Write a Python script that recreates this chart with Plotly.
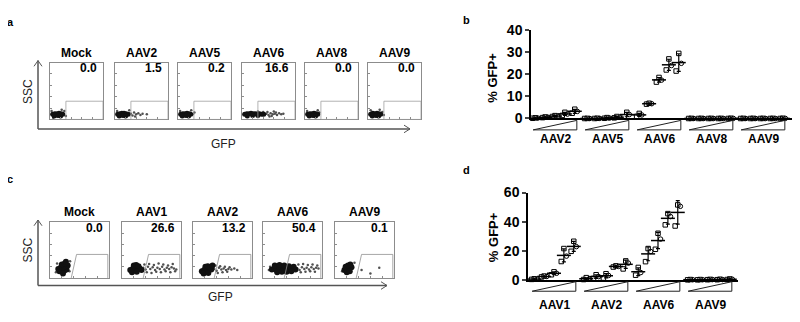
import plotly.graph_objects as go
import numpy as np

# page body keeps an 8px default margin, so the figure is 792x314 and coordinates are shifted
OFF = 8
W, H = 800 - OFF, 322 - OFF
def px(x): return (x - OFF) / W
def py(y): return 1 - (y - OFF) / H

FONT = "Liberation Sans, Arial, sans-serif"

# ---------------- data: panel a (flow) ----------------
A_TITLES = ["Mock", "AAV2", "AAV5", "AAV6", "AAV8", "AAV9"]
A_PCT = ["0.0", "1.5", "0.2", "16.6", "0.0", "0.0"]
A_CORE_X = [
    [0.05, 0.09, 0.13, 0.17, 0.21, 0.24, 0.08, 0.15, 0.20],
    [0.05, 0.09, 0.13, 0.17, 0.21, 0.25, 0.08, 0.15, 0.20],
    [0.05, 0.09, 0.13, 0.17, 0.21, 0.24, 0.08, 0.15, 0.20],
    [0.05, 0.09, 0.13, 0.17, 0.21, 0.25, 0.29, 0.33, 0.37, 0.41, 0.10, 0.20, 0.30],
    [0.05, 0.09, 0.13, 0.17, 0.21, 0.24, 0.08, 0.15, 0.20],
    [0.05, 0.09, 0.13, 0.17, 0.21, 0.24, 0.08, 0.15, 0.20],
]
A_CORE_Y = [
    [0.09, 0.10, 0.10, 0.11, 0.10, 0.09, 0.06, 0.07, 0.06],
    [0.09, 0.10, 0.11, 0.11, 0.10, 0.09, 0.06, 0.07, 0.06],
    [0.09, 0.10, 0.10, 0.11, 0.10, 0.09, 0.06, 0.07, 0.06],
    [0.09, 0.10, 0.10, 0.11, 0.10, 0.10, 0.09, 0.10, 0.09, 0.09, 0.06, 0.07, 0.07],
    [0.09, 0.10, 0.10, 0.11, 0.10, 0.09, 0.06, 0.07, 0.06],
    [0.09, 0.11, 0.10, 0.11, 0.10, 0.09, 0.06, 0.07, 0.06],
]
A_SPARSE_X = [
    [0.03, 0.27, 0.30, 0.06, 0.22],
    [0.30, 0.33, 0.36, 0.40, 0.44, 0.48, 0.52, 0.38, 0.60, 0.27, 0.04],
    [0.28, 0.31, 0.04, 0.25],
    [0.46, 0.50, 0.54, 0.58, 0.62, 0.66, 0.70, 0.48, 0.56, 0.64, 0.74, 0.78, 0.52, 0.60, 0.30, 0.40],
    [0.27, 0.04, 0.24],
    [0.27, 0.05, 0.22, 0.30],
]
A_SPARSE_Y = [
    [0.15, 0.15, 0.06, 0.03, 0.17],
    [0.10, 0.07, 0.12, 0.09, 0.11, 0.08, 0.10, 0.05, 0.09, 0.16, 0.15],
    [0.09, 0.12, 0.15, 0.16],
    [0.10, 0.08, 0.11, 0.09, 0.10, 0.08, 0.11, 0.13, 0.06, 0.12, 0.09, 0.10, 0.05, 0.14, 0.14, 0.13],
    [0.12, 0.15, 0.16],
    [0.13, 0.16, 0.17, 0.08],
]
A_GATE = [0.30, 0.32]  # left x, top y

# ---------------- data: panel c (flow) ----------------
C_TITLES = ["Mock", "AAV1", "AAV2", "AAV6", "AAV9"]
C_PCT = ["0.0", "26.6", "13.2", "50.4", "0.1"]
C_CORE_X = [
    [0.16, 0.20, 0.24, 0.28, 0.18, 0.22, 0.26, 0.30, 0.20, 0.25, 0.14, 0.22, 0.27],
    [0.14, 0.18, 0.22, 0.26, 0.30, 0.20, 0.24, 0.28, 0.17, 0.25, 0.33],
    [0.15, 0.19, 0.23, 0.27, 0.31, 0.21, 0.25, 0.29, 0.18, 0.26, 0.33],
    [0.15, 0.19, 0.23, 0.27, 0.31, 0.35, 0.39, 0.43, 0.47, 0.51, 0.55, 0.20, 0.28, 0.36, 0.44, 0.52, 0.24, 0.32, 0.40, 0.48],
    [0.16, 0.20, 0.24, 0.28, 0.18, 0.22, 0.26, 0.20, 0.25],
]
C_CORE_Y = [
    [0.12, 0.12, 0.13, 0.15, 0.18, 0.19, 0.20, 0.22, 0.24, 0.26, 0.16, 0.08, 0.29],
    [0.14, 0.16, 0.17, 0.18, 0.17, 0.22, 0.23, 0.21, 0.10, 0.11, 0.14],
    [0.12, 0.14, 0.15, 0.16, 0.15, 0.20, 0.21, 0.19, 0.08, 0.09, 0.22],
    [0.15, 0.16, 0.17, 0.16, 0.17, 0.16, 0.18, 0.17, 0.16, 0.17, 0.15, 0.22, 0.23, 0.22, 0.21, 0.20, 0.10, 0.11, 0.11, 0.12],
    [0.14, 0.15, 0.17, 0.19, 0.20, 0.22, 0.24, 0.10, 0.12],
]
C_SPARSE_X = [
    [0.10, 0.34, 0.12, 0.33],
    [0.36, 0.40, 0.44, 0.48, 0.52, 0.56, 0.60, 0.64, 0.68, 0.72, 0.76, 0.80, 0.84, 0.88, 0.92,
     0.38, 0.46, 0.54, 0.62, 0.70, 0.78, 0.86, 0.42, 0.50, 0.58, 0.66, 0.74, 0.82, 0.90],
    [0.36, 0.40, 0.44, 0.48, 0.52, 0.56, 0.60, 0.65, 0.70, 0.38, 0.46, 0.54, 0.62, 0.42, 0.50, 0.58, 0.75],
    [0.58, 0.62, 0.66, 0.70, 0.74, 0.78, 0.82, 0.86, 0.90, 0.94, 0.60, 0.68, 0.76, 0.84, 0.92,
     0.64, 0.72, 0.80, 0.88, 0.10, 0.12],
    [0.45, 0.60, 0.75, 0.12, 0.33],
]
C_SPARSE_Y = [
    [0.10, 0.30, 0.26, 0.12],
    [0.18, 0.15, 0.20, 0.16, 0.19, 0.14, 0.18, 0.16, 0.20, 0.15, 0.18, 0.16, 0.19, 0.17, 0.15,
     0.24, 0.25, 0.23, 0.26, 0.24, 0.22, 0.25, 0.10, 0.09, 0.11, 0.10, 0.12, 0.10, 0.12],
    [0.16, 0.13, 0.18, 0.15, 0.17, 0.14, 0.16, 0.15, 0.17, 0.22, 0.21, 0.20, 0.19, 0.09, 0.10, 0.11, 0.14],
    [0.17, 0.14, 0.19, 0.16, 0.18, 0.15, 0.19, 0.16, 0.18, 0.17, 0.24, 0.25, 0.23, 0.24, 0.22,
     0.10, 0.11, 0.12, 0.11, 0.14, 0.20],
    [0.14, 0.08, 0.18, 0.12, 0.27],
]
C_GATE = [0.36, 0.45, 0.42, 0.98]  # bottom-left x, top-left x, top y, right x

# ---------------- data: panel b ----------------
B_GROUPS = ["AAV2", "AAV5", "AAV6", "AAV8", "AAV9"]
B_VALUES = [
    [[0.1, 0.2, 0.3], [0.4, 0.6, 0.7], [0.9, 1.1, 1.3], [1.4, 2.0, 2.8], [2.4, 3.2, 4.2]],
    [[0.0, 0.0, 0.05], [0.0, 0.05, 0.1], [0.1, 0.2, 0.4], [0.3, 0.6, 0.9], [0.8, 1.8, 2.8]],
    [[1.0, 1.6, 2.3], [6.5, 6.7, 6.9], [16.5, 17.4, 18.6], [22.0, 24.0, 27.0], [21.5, 25.0, 29.5]],
    [[0.0, 0.0, 0.05], [0.0, 0.0, 0.05], [0.0, 0.0, 0.05], [0.0, 0.0, 0.05], [0.0, 0.05, 0.1]],
    [[0.0, 0.0, 0.05], [0.0, 0.0, 0.05], [0.0, 0.0, 0.05], [0.0, 0.0, 0.05], [0.0, 0.05, 0.1]],
]
B_TICKS = [0, 10, 20, 30, 40]

# ---------------- data: panel d ----------------
D_GROUPS = ["AAV1", "AAV2", "AAV6", "AAV9"]
D_VALUES = [
    [[0.3, 0.5, 0.7], [2.0, 2.3, 2.6], [3.5, 4.5, 5.5], [12.6, 16.3, 21.5], [19.6, 22.8, 26.5]],
    [[0.2, 0.5, 1.5], [1.0, 2.2, 3.5], [1.2, 3.0, 4.2], [8.8, 9.2, 9.6], [7.5, 11.5, 13.0]],
    [[3.2, 5.0, 8.5], [12.5, 19.5, 21.5], [21.0, 28.0, 32.0], [37.8, 43.5, 45.5], [37.0, 50.5, 51.5]],
    [[0.0, 0.1, 0.2], [0.0, 0.1, 0.2], [0.1, 0.2, 0.3], [0.1, 0.2, 0.4], [0.2, 0.4, 0.6]],
]
D_TICKS = [0, 20, 40, 60]

DOSE_OFFSETS = [-0.38, -0.19, 0.0, 0.19, 0.38]
REP_JITTER = [-0.05, 0.05, 0.0]
REP_SYMBOLS = ["square-open", "circle-open", "square-open"]

fig = go.Figure()
layout = {}
shapes = []
annotations = []

def axname(n, kind):
    return kind + ("" if n == 1 else str(n))

def note(x, y, text, size=12, bold=True, angle=0, xanchor="center", color="black"):
    f = dict(size=size, color=color)
    if bold:
        f["weight"] = "bold"
    annotations.append(dict(x=px(x), y=py(y), xref="paper", yref="paper", text=text,
                            textangle=angle, showarrow=False, xanchor=xanchor,
                            yanchor="middle", font=f))

# ---------- flow panels ----------
A_BOX_L = [50, 115, 178, 242, 305, 368]
A_BOX_W = 53
A_TOP, A_BOT = 57, 117
C_BOX_L = [50, 122, 193, 263, 335]
C_BOX_W = 59
C_TOP, C_BOT = 225, 284

def flow_axes(n, l, r, top, bot):
    common = dict(range=[0, 1], showgrid=False, zeroline=False, showline=True, mirror=True,
                  linecolor="#8c8c8c", linewidth=1, ticks="inside", ticklen=2,
                  tickcolor="#8c8c8c", tickvals=[0.2, 0.4, 0.6, 0.8],
                  showticklabels=False, fixedrange=True)
    layout[axname(n, "xaxis")] = dict(domain=[px(l), px(r)], anchor=axname(n, "y"), **common)
    layout[axname(n, "yaxis")] = dict(domain=[py(bot), py(top)], anchor=axname(n, "x"), **common)

def flow_points(n, cx, cy, sx, sy, core_size):
    xa, ya = axname(n, "x"), axname(n, "y")
    fig.add_trace(go.Scatter(x=sx, y=sy, mode="markers", xaxis=xa, yaxis=ya,
                             marker=dict(size=2.5, color="#505050"), showlegend=False,
                             hoverinfo="skip"))
    fig.add_trace(go.Scatter(x=cx, y=cy, mode="markers", xaxis=xa, yaxis=ya,
                             marker=dict(size=core_size, color="#111111", line=dict(width=0)),
                             showlegend=False, hoverinfo="skip"))

n = 3
for i, t in enumerate(A_TITLES):
    l = A_BOX_L[i]; r = l + A_BOX_W
    flow_axes(n, l, r, A_TOP, A_BOT)
    flow_points(n, A_CORE_X[i], A_CORE_Y[i], A_SPARSE_X[i], A_SPARSE_Y[i], 5)
    shapes.append(dict(type="rect", xref=axname(n, "x"), yref=axname(n, "y"),
                       x0=A_GATE[0], x1=1, y0=0, y1=A_GATE[1],
                       line=dict(color="#a0a0a0", width=0.8)))
    note((l + r) / 2, 47, t)
    note(r - 4, 63, A_PCT[i], xanchor="right")
    n += 1

for i, t in enumerate(C_TITLES):
    l = C_BOX_L[i]; r = l + C_BOX_W
    flow_axes(n, l, r, C_TOP, C_BOT)
    flow_points(n, C_CORE_X[i], C_CORE_Y[i], C_SPARSE_X[i], C_SPARSE_Y[i], 6)
    g = C_GATE
    shapes.append(dict(type="path", xref=axname(n, "x"), yref=axname(n, "y"),
                       path=f"M {g[0]},0 L {g[1]},{g[2]} L {g[3]},{g[2]} L {g[3]},0",
                       line=dict(color="#909090", width=0.8)))
    note((l + r) / 2, 215, t)
    note(r - 4, 231, C_PCT[i], xanchor="right")
    n += 1

# SSC / GFP arrows
def arrow_axes(x0, ytop, ybot, xright):
    c = dict(color="#555555", width=1.5)
    shapes.append(dict(type="line", xref="paper", yref="paper", x0=px(x0), x1=px(x0),
                       y0=py(ybot), y1=py(ytop), line=c))
    shapes.append(dict(type="line", xref="paper", yref="paper", x0=px(x0), x1=px(xright),
                       y0=py(ybot), y1=py(ybot), line=c))
    shapes.append(dict(type="path", xref="paper", yref="paper",
                       path=f"M {px(x0-4)},{py(ytop+6)} L {px(x0)},{py(ytop)} L {px(x0+4)},{py(ytop+6)}",
                       line=dict(color="#555555", width=1)))
    shapes.append(dict(type="path", xref="paper", yref="paper",
                       path=f"M {px(xright-6)},{py(ybot-4)} L {px(xright)},{py(ybot)} L {px(xright-6)},{py(ybot+4)}",
                       line=dict(color="#555555", width=1)))

arrow_axes(38, 55, 127, 410)
arrow_axes(38, 223, 292, 387)
note(28, 88, "SSC", bold=False, angle=-90, color="#222222")
note(224, 143, "GFP", bold=False, color="#222222")
note(28, 255, "SSC", bold=False, angle=-90, color="#222222")
note(220, 304, "GFP", bold=False, color="#222222")

# ---------- dose-response panels ----------
def dose_panel(ax_n, groups, values, ticks, x_dom, y_dom, yrange, xrange_, tri_y, lab_y):
    xa, ya = axname(ax_n, "x"), axname(ax_n, "y")
    layout[axname(ax_n, "xaxis")] = dict(domain=x_dom, range=xrange_, anchor=ya, showgrid=False,
                                         zeroline=False, showline=True, linecolor="black",
                                         linewidth=1.5, ticks="", showticklabels=False,
                                         fixedrange=True)
    layout[axname(ax_n, "yaxis")] = dict(domain=y_dom, range=yrange, anchor=xa, showgrid=False,
                                         zeroline=False, showline=True, linecolor="black",
                                         linewidth=1.5, ticks="outside", ticklen=4, tickwidth=1.5,
                                         tickvals=ticks, tickfont=dict(size=14, weight="bold",
                                                                       color="black"),
                                         fixedrange=True)
    for k, g in enumerate(groups):
        mx, my, sd = [], [], []
        rx = [[], [], []]; ry = [[], [], []]
        for j, reps in enumerate(values[k]):
            xc = k + DOSE_OFFSETS[j]
            for r_i, v in enumerate(reps):
                rx[r_i].append(xc + REP_JITTER[r_i]); ry[r_i].append(v)
            mx.append(xc); my.append(float(np.mean(reps))); sd.append(float(np.std(reps, ddof=1)))
        fig.add_trace(go.Scatter(x=mx, y=my, mode="markers", xaxis=xa, yaxis=ya,
                                 marker=dict(symbol="line-ew", size=10,
                                             line=dict(color="black", width=1.5)),
                                 error_y=dict(type="data", array=sd, visible=True, thickness=1.2,
                                              width=2, color="black"),
                                 cliponaxis=False, showlegend=False, hoverinfo="skip"))
        for r_i in range(3):
            fig.add_trace(go.Scatter(x=rx[r_i], y=ry[r_i], mode="markers", xaxis=xa, yaxis=ya,
                                     marker=dict(symbol=REP_SYMBOLS[r_i], size=4.5, color="black",
                                                 line=dict(width=1, color="black")),
                                     cliponaxis=False, showlegend=False, hoverinfo="skip"))
        shapes.append(dict(type="path", xref=xa, yref="paper",
                           path=f"M {k-0.42},{py(tri_y[1])} L {k+0.42},{py(tri_y[0])} L {k+0.42},{py(tri_y[1])} Z",
                           line=dict(color="#222222", width=1)))
        annotations.append(dict(x=k, y=py(lab_y), xref=xa, yref="paper", text=g, showarrow=False,
                                xanchor="center", yanchor="middle",
                                font=dict(size=12, weight="bold", color="black")))

dose_panel(1, B_GROUPS, B_VALUES, B_TICKS, [px(531), px(792)], [py(116), py(23)], [0, 40],
           [(531 - 555) / 52, (792 - 555) / 52], (118, 128), 138)
dose_panel(2, D_GROUPS, D_VALUES, D_TICKS, [px(528), px(738)], [py(286), py(194)], [0, 60],
           [(528 - 554) / 52, (738 - 554) / 52], (288, 298), 312)

note(493, 73, "% GFP+", size=13, angle=-90)
note(493, 241, "% GFP+", size=13, angle=-90)

note(10, 14, "a", size=11)
note(466, 12, "b", size=11)
note(10, 180, "c", size=11)
note(466, 170, "d", size=11)

fig.update_layout(width=W, height=H, margin=dict(l=0, r=0, t=0, b=0),
                  paper_bgcolor="white", plot_bgcolor="white",
                  font=dict(family=FONT, color="black"),
                  shapes=shapes, annotations=annotations, **layout)

fig.write_html("out.html")
